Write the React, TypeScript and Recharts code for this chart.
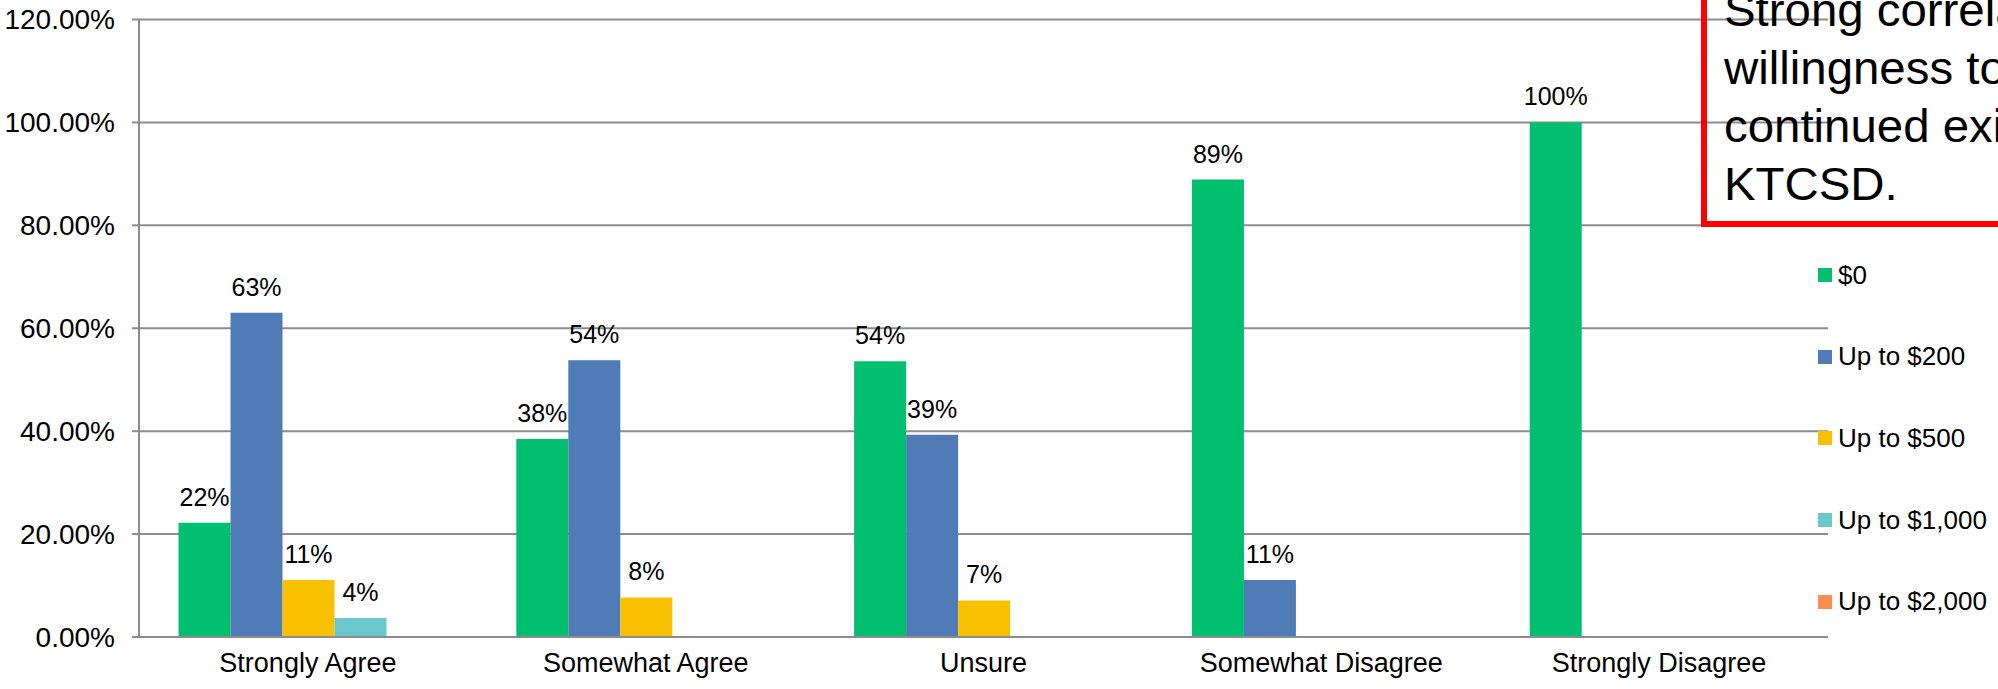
import React from 'react';
import { BarChart, Bar, XAxis, YAxis, CartesianGrid, LabelList } from 'recharts';

const categories = ['Strongly Agree', 'Somewhat Agree', 'Unsure', 'Somewhat Disagree', 'Strongly Disagree'];
const zeroDollar = [0.222, 0.3846, 0.536, 0.889, 1.0];
const upTo200 = [0.63, 0.538, 0.393, 0.111, null];
const upTo500 = [0.111, 0.077, 0.071, null, null];
const upTo1000 = [0.037, null, null, null, null];
const upTo2000 = [null, null, null, null, null];
const yTicks = [0, 0.2, 0.4, 0.6, 0.8, 1.0, 1.2];
const boundaryTicks = [0, 1, 2, 3, 4, 5];

const seriesNames = ['$0', 'Up to $200', 'Up to $500', 'Up to $1,000', 'Up to $2,000'];
const seriesKeys = ['s0', 's200', 's500', 's1000', 's2000'];
const seriesColors = ['#00BF6F', '#4F7CB6', '#F9C000', '#6CC8CC', '#FF8C50'];
const seriesValues = [zeroDollar, upTo200, upTo500, upTo1000, upTo2000];

const annotationLines = ['Strong correlation between', 'willingness to pay and', 'continued existence of', 'KTCSD.'];

const data = categories.map((c, i) => {
  const row: Record<string, any> = { cat: c };
  seriesKeys.forEach((k, j) => {
    row[k] = seriesValues[j][i];
  });
  return row;
});

const FONT = '"Liberation Sans", Arial, sans-serif';
const GRID = '#8C8C8C';

const fmtLabel = (v: any) => (v == null ? '' : `${Math.round(v * 100)}%`);

export default function App() {
  return (
    <div
      style={{
        position: 'fixed',
        left: 0,
        top: 0,
        width: 1998,
        height: 689,
        overflow: 'hidden',
        background: '#fff',
        fontFamily: FONT,
      }}
    >
      <BarChart
        width={1998}
        height={689}
        data={data}
        margin={{ top: 19.5, right: 170, bottom: 0, left: 0 }}
        barCategoryGap="11.7%"
        barGap={0}
      >
        <CartesianGrid horizontal vertical={false} stroke={GRID} strokeWidth={2} />
        <XAxis
          xAxisId="b"
          type="number"
          domain={[0, 5]}
          ticks={boundaryTicks}
          height={0}
          tick={false}
          axisLine={false}
          tickLine={{ stroke: GRID, strokeWidth: 2 }}
          tickSize={7}
          allowDataOverflow
        />
        <XAxis
          dataKey="cat"
          height={52}
          tickLine={false}
          axisLine={{ stroke: GRID, strokeWidth: 2 }}
          tickSize={7}
          tickMargin={9}
          interval={0}
          tick={{ fill: '#000', fontSize: 27, fontFamily: FONT }}
        />
        <YAxis
          domain={[0, 1.2]}
          ticks={yTicks}
          width={139}
          tickSize={7}
          tickMargin={17}
          axisLine={{ stroke: GRID, strokeWidth: 2 }}
          tickLine={{ stroke: GRID, strokeWidth: 2 }}
          tickFormatter={(v: number) => `${(v * 100).toFixed(2)}%`}
          tick={{ fill: '#000', fontSize: 28, fontFamily: FONT }}
        />
        {seriesKeys.map((k, j) => (
          <Bar key={k} dataKey={k} name={seriesNames[j]} fill={seriesColors[j]} isAnimationActive={false}>
            <LabelList
              dataKey={k}
              position="top"
              offset={17}
              formatter={fmtLabel}
              style={{ fill: '#000', fontSize: 25, fontFamily: FONT }}
            />
          </Bar>
        ))}
      </BarChart>

      {/* Legend */}
      <div style={{ position: 'absolute', left: 1818, top: 0 }}>
        {seriesNames.map((n, j) => (
          <div
            key={n}
            style={{
              position: 'absolute',
              left: 0,
              top: 275 + j * 81.7 - 15,
              height: 30,
              display: 'flex',
              alignItems: 'center',
              whiteSpace: 'nowrap',
              fontSize: 26,
              color: '#000',
            }}
          >
            <span style={{ display: 'inline-block', width: 14, height: 14, background: seriesColors[j], marginRight: 6 }} />
            <span>{n}</span>
          </div>
        ))}
      </div>

      {/* Annotation box */}
      <div
        style={{
          position: 'absolute',
          left: 1701,
          top: -40,
          width: 420,
          height: 267,
          boxSizing: 'border-box',
          border: '6px solid #FF0000',
          paddingTop: 15,
          paddingLeft: 17,
          fontSize: 46,
          lineHeight: '58px',
          color: '#000',
          whiteSpace: 'pre',
        }}
      >
        <div style={{ transform: 'scaleX(1.03)', transformOrigin: 'left top' }}>
          {annotationLines.map((l) => (
            <div key={l}>{l}</div>
          ))}
        </div>
      </div>
    </div>
  );
}
